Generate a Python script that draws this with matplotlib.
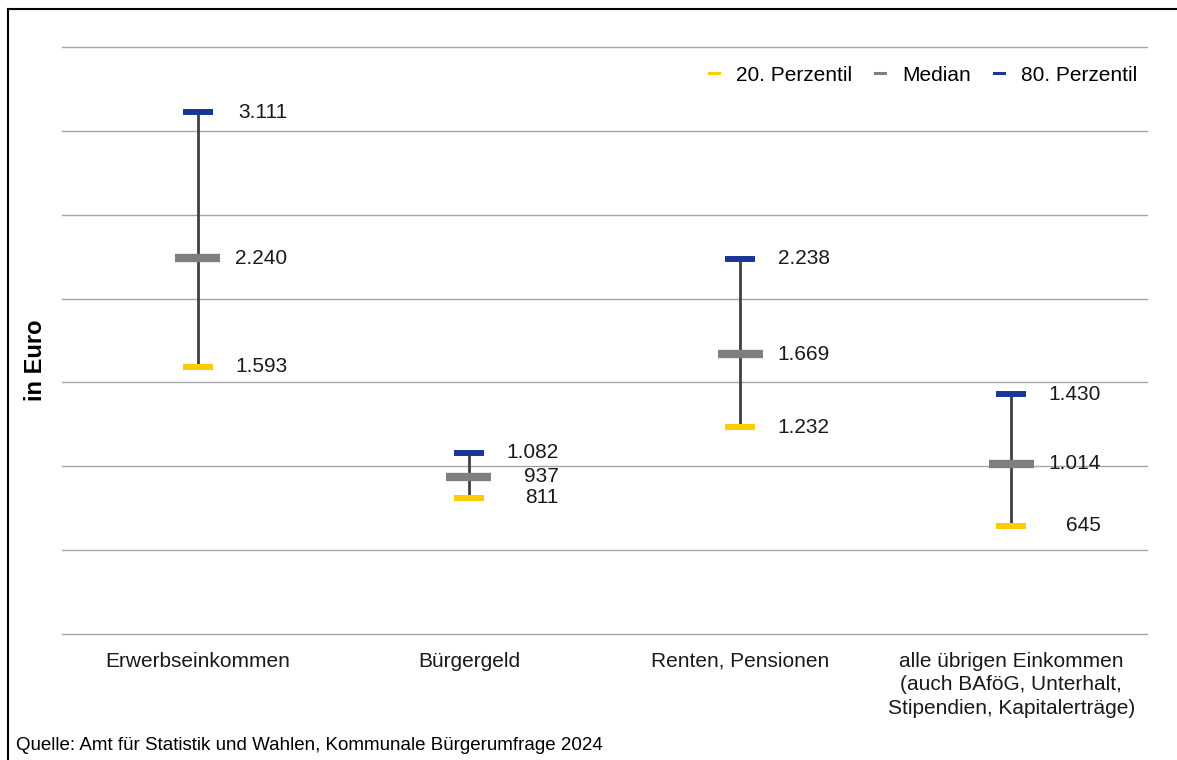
import numpy as np
import matplotlib.pyplot as plt
from matplotlib.lines import Line2D

plt.rcParams['font.family'] = ['Liberation Sans', 'DejaVu Sans']

# data
categories = ["Erwerbseinkommen", "Bürgergeld", "Renten, Pensionen",
              "alle übrigen Einkommen\n(auch BAföG, Unterhalt,\nStipendien, Kapitalerträge)"]
p20 = [1593, 811, 1232, 645]
median = [2240, 937, 1669, 1014]
p80 = [3111, 1082, 2238, 1430]

c_p20 = '#FFCC00'
c_med = '#7F7F7F'
c_p80 = '#1A3795'

def fmt(v):
    return f"{v:,}".replace(",", ".")

fig = plt.figure(figsize=(11.77, 7.60), dpi=100)
ax = fig.add_axes([62/1177, 1-634/760, (1147-62)/1177, (634-47)/760])

x = np.arange(len(categories)) + 0.5
ax.set_xlim(0, 4)
ax.set_ylim(0, 3500)

# gridlines
for g in np.arange(0, 3501, 500):
    ax.axhline(g, color='#A6A6A6', lw=1, zorder=0, clip_on=False)

# whiskers
ax.vlines(x, p20, p80, color='#404040', lw=2, zorder=2)
ax.hlines(p20, x-0.055, x+0.055, color=c_p20, lw=4.3, zorder=3)
ax.hlines(p80, x-0.055, x+0.055, color=c_p80, lw=4.3, zorder=3)
ax.hlines(median, x-0.083, x+0.083, color=c_med, lw=6, zorder=3)

# value labels
for i in range(len(x)):
    for v in (p20[i], median[i], p80[i]):
        ax.text(x[i]+0.33, v, fmt(v), ha='right', va='center', fontsize=15, color='#1a1a1a')

ax.set_xticks([])
ax.set_yticks([])
for s in ax.spines.values():
    s.set_visible(False)

for i, c in enumerate(categories):
    ax.text(x[i], -0.03*3500, c, ha='center', va='top', fontsize=15,
            linespacing=1.3, color='#1a1a1a')

fig.text(36/1177, 1-360/760, "in Euro", rotation=90, ha='center', va='center',
         fontsize=17, fontweight='bold')
fig.text(16/1177, 1-745/760, "Quelle: Amt für Statistik und Wahlen, Kommunale Bürgerumfrage 2024",
         ha='left', va='center', fontsize=13.5)

handles = [Line2D([0], [0], color=c_p20, lw=2.2),
           Line2D([0], [0], color=c_med, lw=2.2),
           Line2D([0], [0], color=c_p80, lw=2.2)]
ax.legend(handles, ["20. Perzentil", "Median", "80. Perzentil"], ncol=3,
          loc='upper right', bbox_to_anchor=(1.008, 1.0), frameon=False,
          fontsize=15, handlelength=0.5, handletextpad=0.8, columnspacing=1.1)

# figure border (top and left only)
fig.add_artist(Line2D([8/1177, 1], [1-9/760, 1-9/760], color='black', lw=1.5, transform=fig.transFigure))
fig.add_artist(Line2D([8/1177, 8/1177], [0, 1-9/760], color='black', lw=1.5, transform=fig.transFigure))

fig.savefig("out.png", dpi=100)
